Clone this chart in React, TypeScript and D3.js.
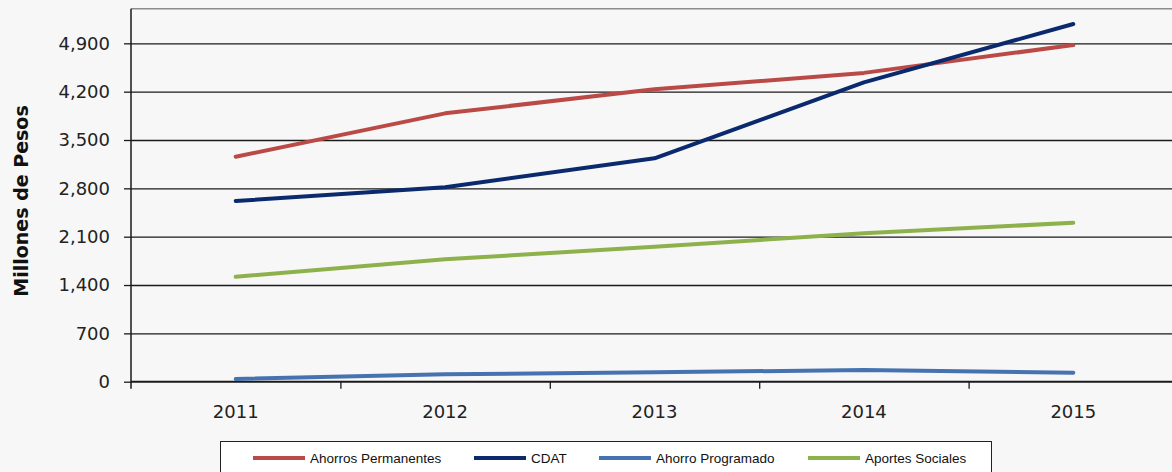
import React, { useRef, useEffect } from "react";
import * as d3 from "d3";

// Millones de pesos, 2011-2015
const years = ["2011", "2012", "2013", "2014", "2015"];
const ahorrosPermanentes = [3258, 3886, 4234, 4472, 4876];
const cdat = [2617, 2815, 3235, 4335, 5180];
const ahorroProgramado = [39, 107, 136, 169, 130];
const aportesSociales = [1520, 1772, 1955, 2149, 2302];
const yTicks = [0, 700, 1400, 2100, 2800, 3500, 4200, 4900];

const series = [
  { name: "Ahorros Permanentes", values: ahorrosPermanentes, color: "#BA4A46" },
  { name: "CDAT", values: cdat, color: "#0B2A6E" },
  { name: "Ahorro Programado", values: ahorroProgramado, color: "#4673B0" },
  { name: "Aportes Sociales", values: aportesSociales, color: "#8DB24C" },
];

const W = 1172;
const H = 472;

const App: React.FC = () => {
  const ref = useRef<SVGSVGElement | null>(null);

  useEffect(() => {
    const svg = d3.select(ref.current);
    svg.selectAll("*").remove();

    const left = 131;
    const top = 8.8;
    const bottom = 381.7;
    const band = 209.4;
    const right = left + band * years.length;

    const x = d3.scaleBand<string>().domain(years).range([left, right]).padding(0);
    const y = d3.scaleLinear().domain([0, 5400]).range([bottom, top]);
    const cx = (d: string) => (x(d) ?? 0) + x.bandwidth() / 2;

    // plot top border
    svg
      .append("line")
      .attr("x1", left)
      .attr("x2", W)
      .attr("y1", top)
      .attr("y2", top)
      .attr("stroke", "#8c8c8c")
      .attr("stroke-width", 1.5);

    // gridlines
    const grid = svg
      .append("g")
      .attr("transform", `translate(${left},0)`)
      .call(
        d3
          .axisLeft(y)
          .tickValues(yTicks.filter((t) => t > 0))
          .tickSize(-(W - left))
          .tickFormat(() => "") as any,
      );
    grid.select(".domain").remove();
    grid.selectAll("line").attr("stroke", "#1a1a1a").attr("stroke-width", 1.3);

    // y axis with labels
    const yAxis = svg
      .append("g")
      .attr("transform", `translate(${left},0)`)
      .call(
        d3
          .axisLeft(y)
          .tickValues(yTicks)
          .tickSize(7)
          .tickPadding(14)
          .tickSizeOuter(0)
          .tickFormat(d3.format(",") as any) as any,
      );
    yAxis.select(".domain").remove();
    yAxis.selectAll("line").attr("stroke", "#1a1a1a").attr("stroke-width", 1.3);
    yAxis
      .selectAll("text")
      .attr("fill", "#222")
      .style("font-family", "'DejaVu Sans', Verdana, sans-serif")
      .style("font-size", "18px");
    svg
      .append("line")
      .attr("x1", left)
      .attr("x2", left)
      .attr("y1", top)
      .attr("y2", bottom + 7)
      .attr("stroke", "#1a1a1a")
      .attr("stroke-width", 1.5);

    // x axis
    const xTickScale = d3.scaleLinear().domain([0, years.length]).range([left, right]);
    const xAxis = svg
      .append("g")
      .attr("transform", `translate(0,${bottom})`)
      .call(
        d3
          .axisBottom(xTickScale)
          .tickValues(d3.range(1, years.length))
          .tickSize(7)
          .tickFormat(() => "") as any,
      );
    xAxis.select(".domain").remove();
    xAxis.selectAll("line").attr("stroke", "#1a1a1a").attr("stroke-width", 1.3);
    svg
      .append("line")
      .attr("x1", left)
      .attr("x2", W)
      .attr("y1", bottom)
      .attr("y2", bottom)
      .attr("stroke", "#1a1a1a")
      .attr("stroke-width", 2);
    svg
      .append("g")
      .selectAll("text")
      .data(years)
      .enter()
      .append("text")
      .attr("x", (d) => cx(d))
      .attr("y", bottom + 36)
      .attr("text-anchor", "middle")
      .attr("fill", "#222")
      .style("font-family", "'DejaVu Sans', Verdana, sans-serif")
      .style("font-size", "18px")
      .text((d) => d);

    // y title
    svg
      .append("text")
      .attr("transform", "rotate(-90)")
      .attr("x", -201)
      .attr("y", 28)
      .attr("text-anchor", "middle")
      .attr("fill", "#111")
      .style("font-family", "'DejaVu Sans', Verdana, sans-serif")
      .style("font-weight", "bold")
      .style("font-size", "19px")
      .text("Millones de Pesos");

    // lines
    const line = d3
      .line<number>()
      .x((_, i) => cx(years[i]))
      .y((v) => y(v));
    svg
      .append("g")
      .selectAll("path")
      .data(series)
      .enter()
      .append("path")
      .attr("d", (s) => line(s.values))
      .attr("fill", "none")
      .attr("stroke", (s) => s.color)
      .attr("stroke-width", 4)
      .attr("stroke-linecap", "round")
      .attr("stroke-linejoin", "round");

    // legend
    svg
      .append("rect")
      .attr("x", 220.5)
      .attr("y", 441.5)
      .attr("width", 771)
      .attr("height", 40)
      .attr("fill", "#fff")
      .attr("stroke", "#222")
      .attr("stroke-width", 1);
    const legendX = [253, 474, 599, 808];
    const lg = svg
      .append("g")
      .selectAll("g")
      .data(series)
      .enter()
      .append("g")
      .attr("transform", (_, i) => `translate(${legendX[i]},458)`);
    lg.append("line")
      .attr("x1", 0)
      .attr("x2", 52)
      .attr("stroke", (s) => s.color)
      .attr("stroke-width", 4);
    lg.append("text")
      .attr("x", 57)
      .attr("y", 5)
      .attr("fill", "#111")
      .style("font-family", "'Liberation Sans', Arial, sans-serif")
      .style("font-size", "13.5px")
      .text((s) => s.name);
  }, []);

  return (
    <svg
      ref={ref}
      width={W}
      height={H}
      style={{ position: "absolute", left: 0, top: 0, background: "#f7f7f7" }}
    />
  );
};

export default App;
